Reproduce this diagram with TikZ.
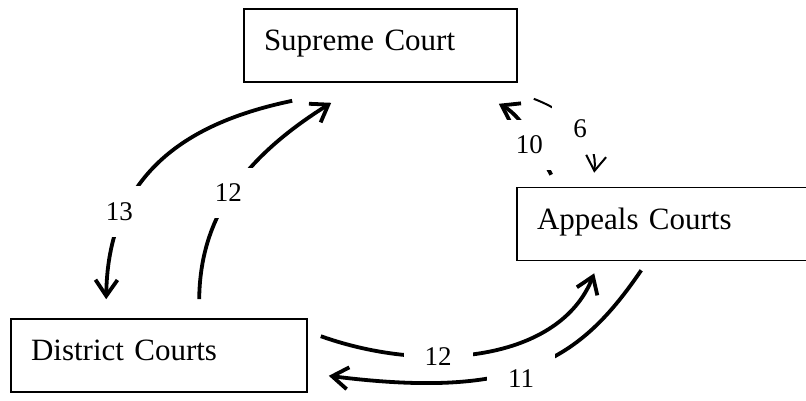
\documentclass[tikz,border=0pt]{standalone}
\usepackage{fontspec}
\setmainfont{Liberation Serif}
\usetikzlibrary{arrows.meta}

\begin{document}
\begin{tikzpicture}[x=1pt, y=-1pt,
  court/.style={draw, line width=1.6pt, inner xsep=20pt, inner ysep=0pt, minimum height=73pt,
    align=left, text height=22pt, text depth=12pt, font=\fontsize{31}{37}\selectfont},
  flow/.style={line width=3.8pt, -{Straight Barb[length=16pt, width=22pt]}},
  thinflow/.style={line width=2pt, -{Straight Barb[length=15pt, width=20pt]}},
  num/.style={fill=white, inner xsep=21pt, inner ysep=16pt, font=\fontsize{27}{32}\selectfont}]
  \clip (0, 0) rectangle (806, 400);

  % Courts
  \node[court, text width=233pt] (supreme) at (380.5, 45.5) {Supreme Court};
  \node[court, text width=263pt] (appeals) at (668.5, 224) {Appeals Courts};
  \node[court, text width=256pt] (district) at (159, 355.5) {District Courts};

  % Supreme <-> District
  \draw[flow] ([shift={(49,18)}]supreme.south west) .. controls (200, 120) and (108, 165) .. ([shift={(96,-19)}]district.north west)
    node[num, pos=0.74, xshift=-5pt] {13};
  \draw[flow] ([shift={(189,-19)}]district.north west) .. controls (200, 220) and (240, 160) .. ([shift={(88,20)}]supreme.south west)
    node[num, pos=0.5, xshift=-3pt] {12};

  % District <-> Appeals
  \draw[flow] ([shift={(13,18)}]district.north east) .. controls (430, 375) and (560, 360) .. ([shift={(78,12)}]appeals.south west)
    node[num, pos=0.35] {12};
  \draw[flow] ([shift={(125,9)}]appeals.south west) .. controls (580, 360) and (520, 400) .. ([shift={(21,-17)}]district.south east)
    node[num, pos=0.53, xshift=-4pt, yshift=-10pt] {11};

  % Appeals <-> Supreme
  \draw[flow] ([shift={(35,-12)}]appeals.north west) .. controls (540, 154) and (525, 118) .. ([shift={(-19,21)}]supreme.south east)
    node[num, pos=0.4, xshift=-6pt] {10};
  \draw[thinflow] ([shift={(16,16)}]supreme.south east) .. controls (573, 114) and (598, 140) .. ([shift={(78,-14)}]appeals.north west)
    node[num, pos=0.5] {6};
\end{tikzpicture}
\end{document}
